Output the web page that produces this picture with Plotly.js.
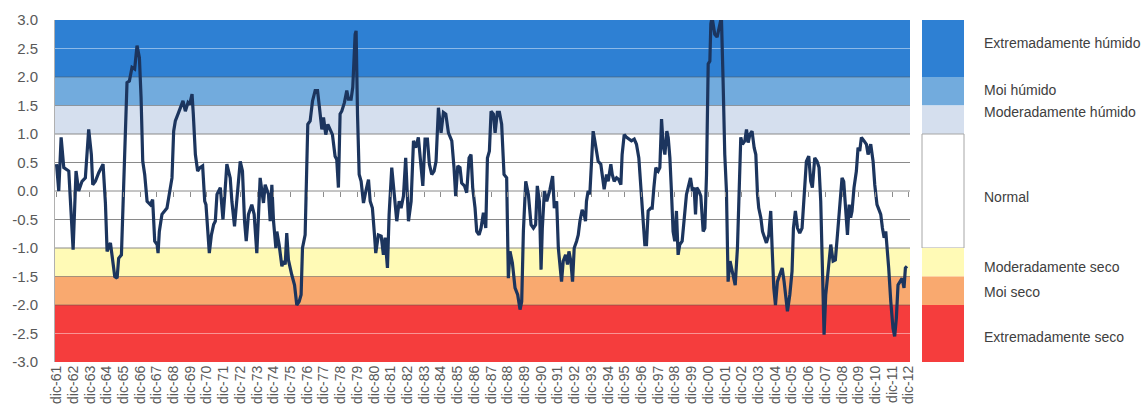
<!DOCTYPE html>
<html>
<head>
<meta charset="utf-8">
<script src="https://cdn.plot.ly/plotly-3.0.1.min.js"></script>
<style>html,body{margin:0;padding:0;background:#fff;}#chart{width:1144px;height:419px;}</style>
</head>
<body>
<div id="chart"></div>
<script>
// Month index counted from dic-61 (0 = dic-61, 12 = dic-62, ...)
const months = [
0,1.6,3.3,5.2,8.8,11.9,14.0,15.9,18.3,20.7,23.1,25.0,26.0,27.9,30.3,33.4,35.1,36.3,38.7,41.8,43.5,44.6,46.6,48.2,49.4,50.6,52.3,54.2,56.1,57.8,59.5,60.7,61.9,63.3,65.0,67.4,69.0,70.5,72.2,72.9,73.8,75.7,79.3,81.7,82.9,84.1,85.3,87.2,88.9,90.8,92.5,94.4,95.6,97.3,98.2,99.7,101.3,103.0,104.9,106.4,107.3,108.8,109.7,111.2,112.8,114.0,115.2,117.6,119.5,121.0,122.3,
124.7,125.9,127.8,129.5,131.9,133.5,135.0,136.2,137.8,140.2,141.9,143.8,145.0,146.2,148.6,149.8,152.2,153.4,154.6,155.8,157.5,158.2,159.8,161.8,163.0,164.2,165.3,166.5,168.9,170.9,172.5,174.2,175.6,176.6,178.5,180.4,182.1,183.8,185.7,187.4,188.8,190.5,191.7,193.3,194.8,196.5,198.1,200.0,201.2,202.4,203.6,204.8,206.7,208.4,209.6,211.5,212.7,214.4,215.1,216.1,217.3,218.7,220.4,222.1,224.0,225.2,226.8,228.3,229.2,231.1,233.1,234.7,235.9,237.6,238.8,
240.7,241.9,244.3,246.0,247.4,249.1,250.7,252.7,254.6,256.3,257.9,259.8,261.8,263.0,264.6,266.3,267.7,269.4,271.1,272.5,274.2,276.1,277.8,279.5,281.4,283.8,285.4,286.6,288.1,289.7,290.9,292.9,294.5,296.2,297.6,298.8,300.5,301.7,303.4,304.8,306.5,308.2,309.4,310.8,312.0,313.7,314.9,316.5,318.0,319.6,321.3,323.2,324.4,325.6,327.3,329.2,331.1,332.8,334.0,335.2,336.9,338.8,340.7,342.4,344.0,345.2,346.7,347.9,348.8,350.3,352.0,354.3,356.2,357.4,359.1,360.3,
362.6,363.8,365.5,366.9,367.9,369.3,370.5,371.7,373.4,374.6,375.8,377.4,378.9,379.8,380.5,381.7,382.9,384.1,385.3,386.5,387.7,388.9,390.8,392.5,393.2,394.9,396.1,398.0,399.0,400.4,402.1,403.7,405.2,406.1,407.6,409.3,410.9,412.8,414.8,416.4,418.1,419.5,421.2,422.4,423.6,424.8,426.7,427.7,428.9,430.3,432.0,433.2,434.4,435.6,436.8,438.2,439.2,440.4,441.5,442.7,443.9,445.1,446.3,447.5,449.2,450.6,452.3,453.5,455.2,456.6,457.8,458.8,459.7,461.2,462.6,464.3,465.5,466.7,467.9,469.1,469.8,470.7,472.6,474.3,476.2,477.4,478.6,479.8,481.0,482.2,483.6,485.3,487.3,
488.9,489.9,491.3,492.5,494.2,495.4,496.6,497.8,499.4,500.9,502.1,503.3,504.2,505.7,506.9,508.0,509.7,511.4,512.8,513.8,515.0,516.2,517.6,519.3,521.0,522.4,523.6,524.8,526.5,528.1,529.1,530.5,532.0,533.6,535.3,536.8,538.4,540.1,541.5,542.7,544.4,546.1,547.5,548.7,549.7,551.1,552.3,553.5,554.7,555.9,557.6,559.2,560.7,562.4,564.0,565.2,566.7,567.9,569.1,570.2,571.2,572.6,574.3,575.5,576.7,577.9,579.8,581.5,582.7,584.6,586.3,587.5,589.1,590.6,591.8,593.0,594.2,595.4,596.6,597.5,599.0,600.6,601.8,603.0,604.2,605.4,607.1,608.5,609.5,610.6
];
const spi = [
0.47,0.0,0.94,0.41,0.35,-1.03,0.35,0.0,0.17,0.23,1.08,0.64,0.11,0.17,0.32,0.47,-0.21,-1.06,-0.91,-1.50,-1.53,-1.18,-1.12,0.06,1.05,1.90,1.93,2.17,2.14,2.55,2.34,1.64,0.52,0.29,-0.18,-0.24,-0.15,-0.88,-0.94,-1.09,-0.71,-0.41,-0.30,0.06,0.23,1.05,1.23,1.35,1.46,1.58,1.40,1.55,1.52,1.70,1.35,0.64,0.35,0.41,0.44,-0.18,-0.24,-0.88,-1.09,-0.77,-0.59,-0.53,-0.06,0.06,-0.5,0.0,0.47,
0.23,-0.18,-0.62,-0.18,0.52,0.35,-0.53,-0.88,-0.41,-0.24,-0.41,-1.09,-0.24,0.23,-0.21,0.11,-0.06,-0.53,0.11,-0.53,-1.0,-0.71,-0.94,-1.32,-1.23,-1.29,-0.74,-1.21,-1.47,-1.65,-2.0,-1.94,-1.82,-1.0,-0.77,1.17,1.23,1.58,1.76,1.76,1.46,1.08,1.29,0.99,1.17,1.08,0.99,0.61,0.55,0.06,1.35,1.40,1.55,1.76,1.61,1.61,1.82,2.75,2.81,1.35,0.29,0.17,-0.21,0.0,0.2,-0.18,-0.30,-0.77,-1.09,-0.77,-0.79,-1.12,-0.82,-1.35,-0.41,
0.41,0.06,-0.53,-0.18,-0.30,-0.09,0.58,-0.53,-0.18,0.88,0.76,0.94,0.41,0.09,0.91,0.91,0.47,0.29,0.35,0.52,1.46,1.02,1.38,1.35,1.02,0.88,0.41,-0.09,0.44,0.41,0.14,0.09,-0.03,0.58,0.64,0.06,-0.30,-0.71,-0.77,-0.65,-0.38,-0.65,0.58,0.70,1.40,1.35,1.02,1.38,1.38,1.17,0.29,0.23,-1.53,-1.06,-1.26,-1.70,-1.82,-2.08,-1.94,-0.71,0.17,-0.06,-0.59,-0.65,-0.59,0.09,-0.18,-1.38,-0.65,0.0,-0.18,0.03,0.26,-0.30,-0.18,-1.0,
-1.59,-1.23,-1.12,-1.29,-1.06,-1.23,-1.59,-1.0,-0.88,-0.77,-0.53,-0.33,-0.41,-0.53,-0.18,0.0,-0.06,0.64,1.05,0.88,0.70,0.52,0.47,0.17,0.03,0.29,0.17,0.47,0.29,0.17,0.23,0.20,0.11,0.64,0.99,0.94,0.91,0.88,0.91,0.82,0.58,0.06,-0.65,-0.94,-0.94,-0.35,-0.30,-0.30,0.06,0.41,0.35,0.41,1.26,0.79,0.64,1.05,0.94,0.58,0.0,-0.71,-0.88,-0.35,-1.12,-0.94,-0.88,-0.53,-0.06,0.06,0.23,0.0,0.06,-0.41,0.06,0.0,-0.09,-0.71,-0.65,0.29,2.23,2.28,2.93,3.05,2.75,2.70,2.93,3.05,1.93,0.64,0.0,-1.59,-1.23,-1.45,-1.65,
-1.0,0.06,0.94,0.82,0.88,1.08,0.85,0.99,1.05,0.76,0.64,-0.06,-0.30,-0.47,-0.71,-0.79,-0.91,-0.77,-0.35,-1.0,-1.70,-2.0,-1.59,-1.47,-1.35,-1.59,-1.88,-2.11,-1.82,-1.41,-0.65,-0.35,-0.65,-0.74,-0.65,0.0,0.52,0.61,0.17,0.06,0.58,0.52,0.41,-0.18,-1.0,-2.52,-1.82,-1.53,-1.12,-0.94,-1.23,-1.21,-0.77,-0.30,0.23,0.17,-0.30,-0.77,-0.24,-0.47,-0.35,0.06,0.35,0.76,0.70,0.94,0.88,0.82,0.64,0.82,0.52,0.11,-0.24,-0.35,-0.41,-0.65,-0.82,-0.71,-1.0,-1.35,-1.94,-2.41,-2.55,-2.23,-1.65,-1.59,-1.53,-1.70,-1.35,-1.32
];

// Category axis labels (one every 12 months)
const yearLabels = [];
for (let y = 61; y <= 112; y++) yearLabels.push('dic-' + String(y % 100).padStart(2, '0'));
const yearTicks = yearLabels.map((_, i) => i * 12);

const yTickVals = [3,2.5,2,1.5,1,0.5,0,-0.5,-1,-1.5,-2,-2.5,-3];
const yTickText = ['3.0','2.5','2.0','1.5','1.0','0.5','0.0','-0.5','-1.0','-1.5','-2.0','-2.5','-3.0'];

// Classification bands
const bandNames  = ['Extremadamente húmido','Moi húmido','Moderadamente húmido','Normal','Moderadamente seco','Moi seco','Extremadamente seco'];
const bandLower  = [2, 1.5, 1, -1, -1.5, -2, -3];
const bandUpper  = [3, 2, 1.5, 1, -1, -1.5, -2];
const bandLabelY = [2.59, 1.78, 1.38, -0.1, -1.33, -1.78, -2.56];
const bandColors = ['#2e80d3','#72abdd','#d5dfee','#ffffff','#fffab6','#f9a96f','#f53d3d'];

const shapes = [];
const annotations = [];
const legX0 = (922 - 55) / 855, legX1 = (964 - 55) / 855, labX = (982 - 55) / 855;
bandNames.forEach((name, i) => {
  if (bandColors[i] !== '#ffffff') {
    shapes.push({type:'rect', xref:'paper', yref:'y', x0:0, x1:1, y0:bandLower[i], y1:bandUpper[i],
      fillcolor:bandColors[i], line:{width:0}, layer:'below'});
  }
  shapes.push({type:'rect', xref:'paper', yref:'y', x0:legX0, x1:legX1, y0:bandLower[i], y1:bandUpper[i],
    fillcolor:bandColors[i], line:{width: bandColors[i] === '#ffffff' ? 1 : 0, color:'#a6a6a6'}, layer:'above'});
  annotations.push({xref:'paper', yref:'y', x:labX, y:bandLabelY[i], text:name, showarrow:false,
    xanchor:'left', yanchor:'middle', font:{family:'Liberation Sans, Arial, sans-serif', size:14, color:'#404040'}});
});
// horizontal grid lines at every y tick, drawn over the bands
yTickVals.forEach(v => {
  if (Math.abs(v) === 3) return;
  let col = '#8a8a8a';
  if (Math.abs(v) === 2.5) col = 'rgba(255,255,255,0.45)';
  else if (Math.abs(v) > 1.2) col = 'rgba(80,80,80,0.5)';
  shapes.push({type:'line', xref:'paper', yref:'y', x0:0, x1:1, y0:v, y1:v, line:{color:col, width:1}, layer:'below'});
});

const tickFont = {family:'Liberation Sans, Arial, sans-serif', size:14, color:'#595959'};

const traces = [
  {x: months, y: spi, type:'scatter', mode:'lines', line:{color:'#1c355e', width:3.2}, hoverinfo:'skip', showlegend:false},
  {x: [], y: [], type:'scatter', mode:'lines', xaxis:'x2', showlegend:false, hoverinfo:'skip'}
];

const layout = {
  width:1144, height:419,
  margin:{l:55, r:234, t:20, b:57},
  paper_bgcolor:'#ffffff', plot_bgcolor:'#ffffff',
  showlegend:false,
  xaxis:{range:[-1.1, 612.8], tickmode:'array', tickvals:yearTicks, ticktext:yearLabels, tickangle:-90,
    ticks:'', showgrid:false, zeroline:false, showline:false, tickfont:tickFont, automargin:false},
  xaxis2:{overlaying:'x', anchor:'free', position:0.5, range:[-1.1, 612.8], tickmode:'array', tickvals:yearTicks,
    ticks:'outside', ticklen:5, tickcolor:'#8c8c8c', showticklabels:false, showgrid:false, zeroline:false, showline:false},
  yaxis:{range:[-3, 3], tickmode:'array', tickvals:yTickVals, ticktext:yTickText, showgrid:false,
    zeroline:false, showline:true, linecolor:'#b0b0b0', ticks:'outside', ticklen:13, tickcolor:'rgba(0,0,0,0)',
    tickfont:{family:'Liberation Sans, Arial, sans-serif', size:15, color:'#595959'}, automargin:false},
  shapes: shapes,
  annotations: annotations
};

Plotly.newPlot('chart', traces, layout, {displayModeBar:false, staticPlot:true});
</script>
</body>
</html>
